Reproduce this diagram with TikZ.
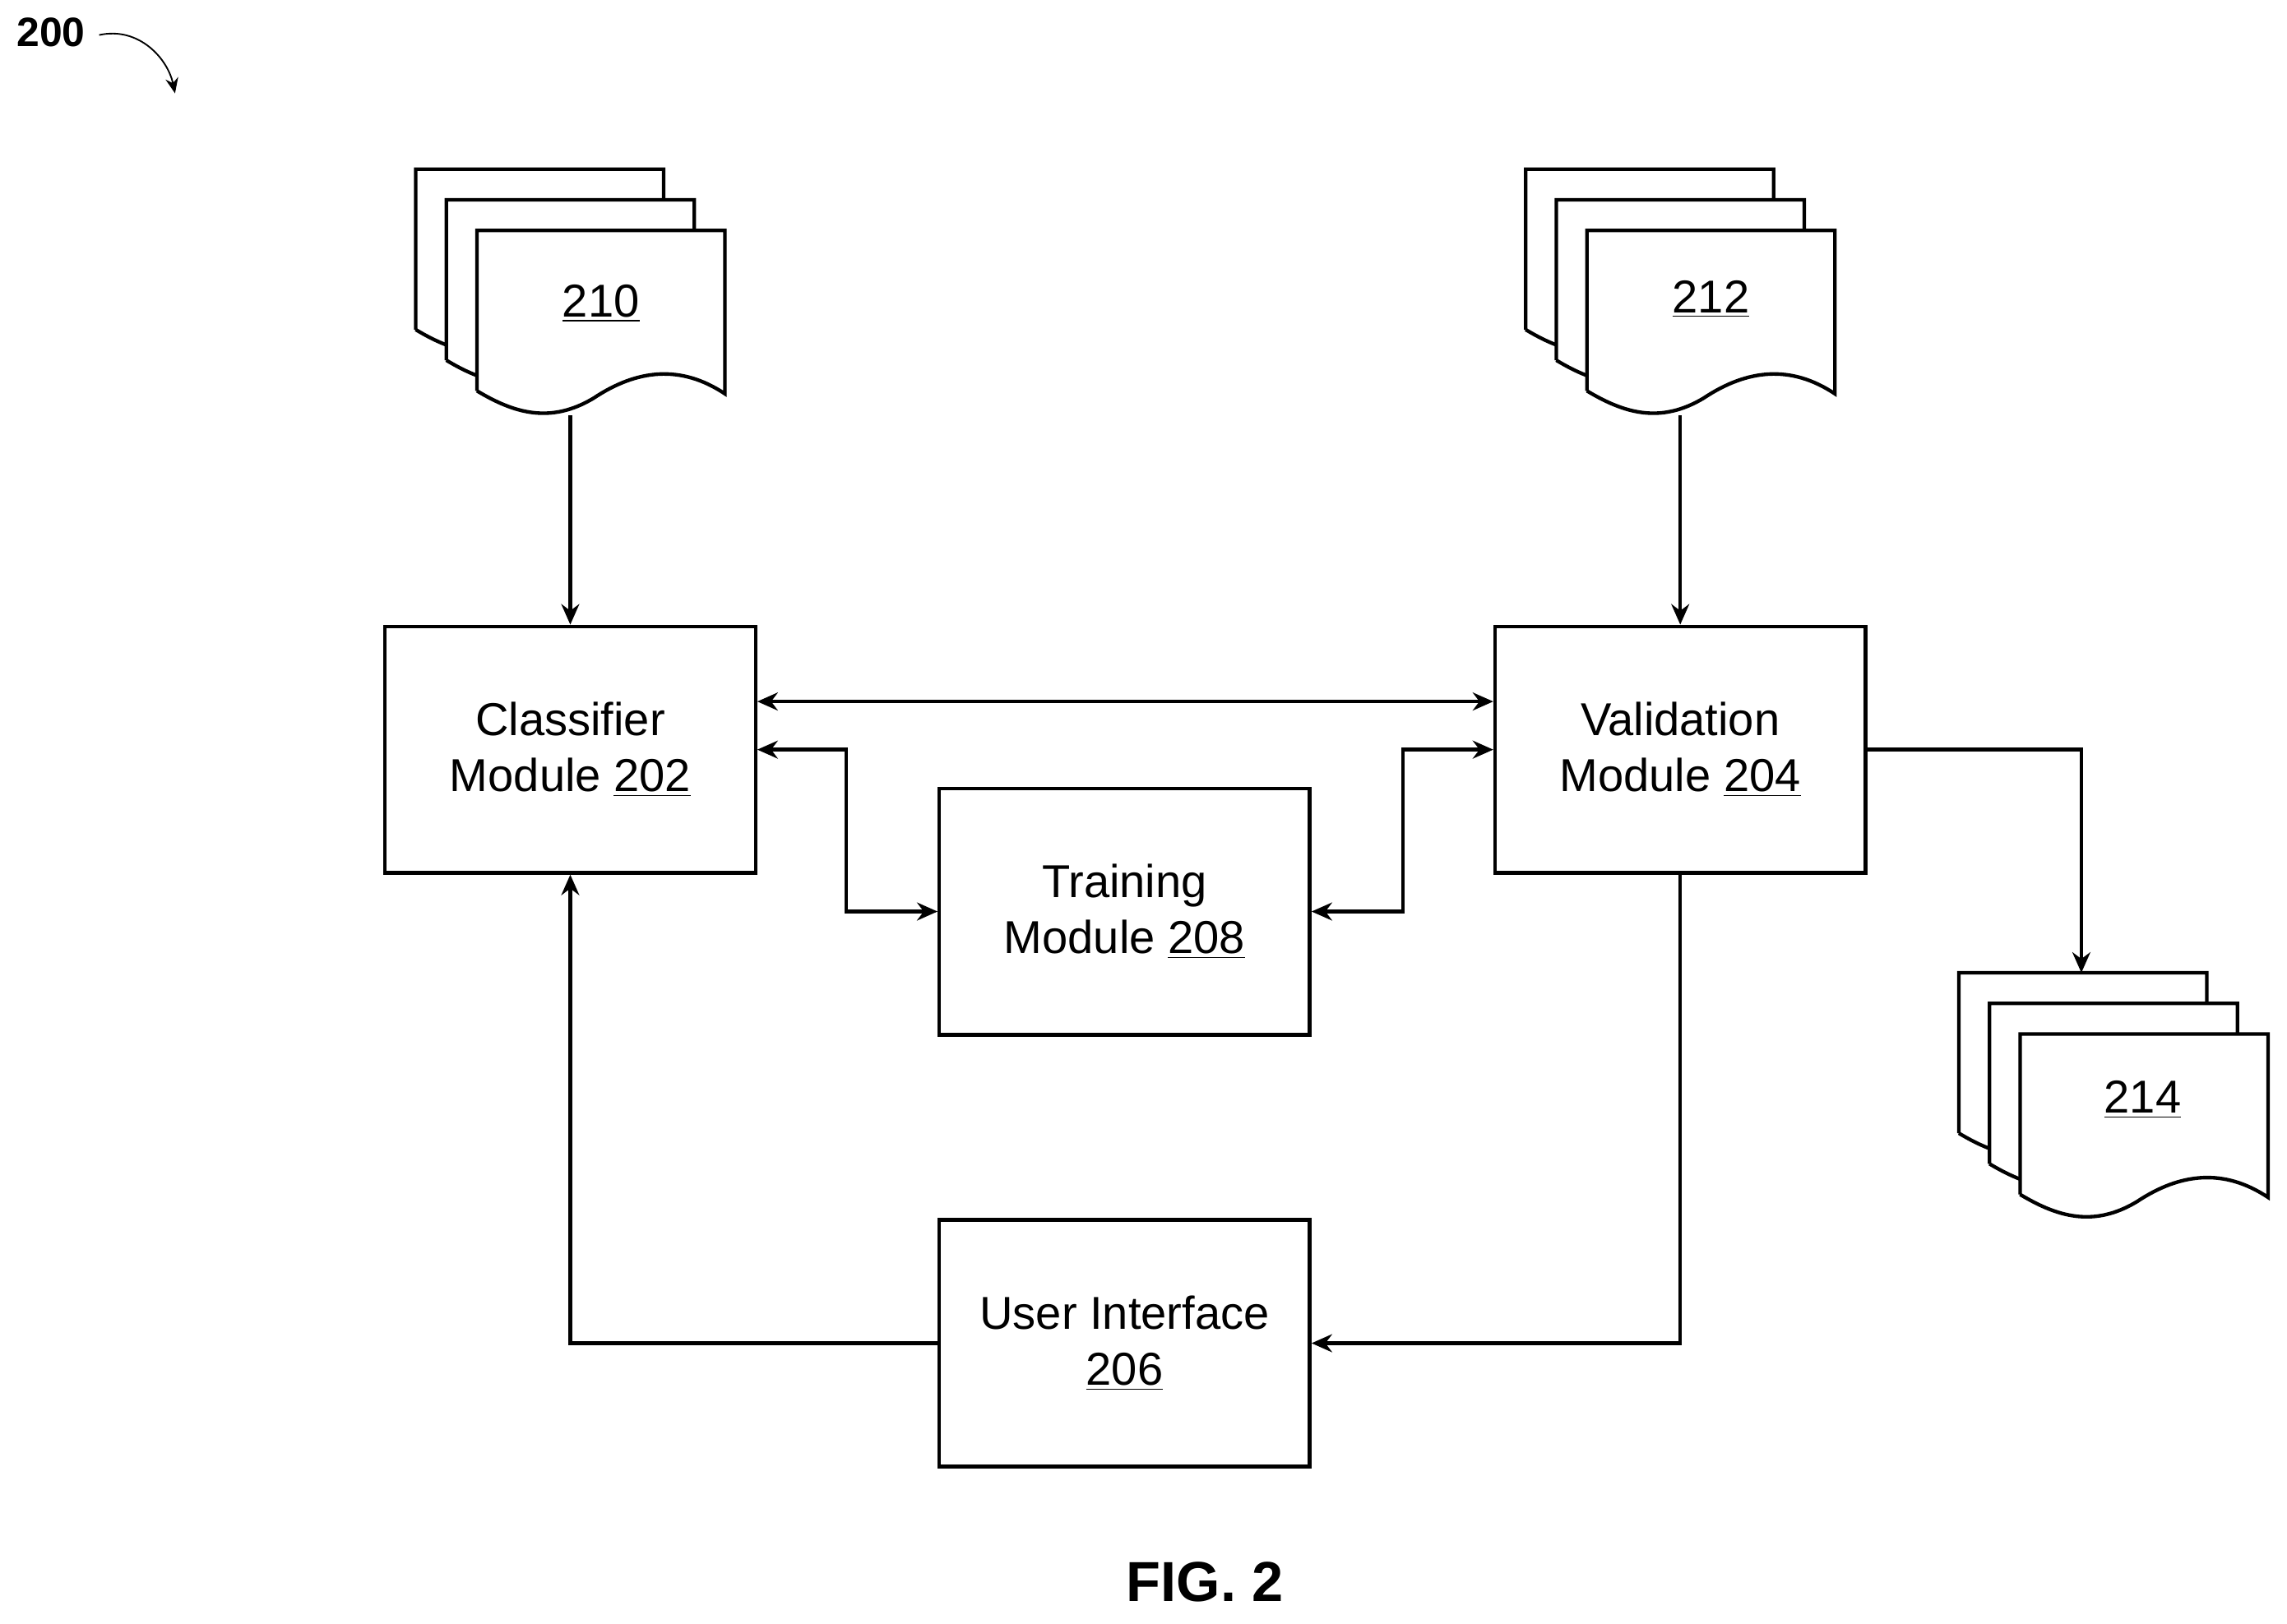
\documentclass[tikz,border=0pt]{standalone}
\usepackage{fontspec}
\setmainfont{Liberation Sans}
\usetikzlibrary{arrows.meta, positioning}

% one sheet of a document stack, top left corner at (#1,#2)
\newcommand{\docsheet}[2]{%
  \draw[fill=white] (#1,#2+110) -- (#1,#2) -- (#1+170,#2) -- (#1+170,#2+112)
    .. controls (#1+140,#2+92) and (#1+110,#2+95) .. (#1+80,#2+115)
    .. controls (#1+50,#2+133) and (#1+25,#2+125) .. (#1,#2+110);}
\newcommand{\docstack}[2]{%
  \docsheet{#1-42}{#2-42}\docsheet{#1-21}{#2-21}\docsheet{#1}{#2}}

\begin{document}
\begin{tikzpicture}[x=0.02cm, y=-0.02cm, line width=1.4pt,
    every node/.style={font=\fontsize{18}{22}\selectfont},
    module/.style={draw, minimum width=5.08cm, minimum height=3.38cm, align=center},
    arr/.style={-{Stealth[length=8pt,width=7pt]}},
    darr/.style={{Stealth[length=8pt,width=7pt]}-{Stealth[length=8pt,width=7pt]}}]
    \useasboundingbox (0,0) rectangle (1568,1113);
    % figure label
    \node[font=\bfseries\fontsize{16}{20}\selectfont] (fignum) at (35,22) {200};
    \draw[line width=0.6pt, -{Stealth[length=6pt,width=5pt]}] (68,24) .. controls (95,18) and (115,40) .. (120,64);
    % document stacks
    \docstack{327}{158}
    \node (d210) at (412,208) {\underline{210}};
    \coordinate (d210b) at (391,285);
    \docstack{1088}{158}
    \node (d212) at (1173,205) {\underline{212}};
    \coordinate (d212b) at (1152,285);
    \docstack{1385}{709}
    \node (d214) at (1469,754) {\underline{214}};
    \coordinate (d214t) at (1427,667);
    % modules
    \node[module] (cls) at (391,514) {Classifier\\Module \underline{202}};
    \node[module] (val) at (1152,514) {Validation\\Module \underline{204}};
    \node[module] (trn) at (771,625) {Training\\Module \underline{208}};
    \node[module] (ui) at (771,921) {User Interface\\\underline{206}};
    % connectors
    \draw[arr] (d210b) -- (cls.north);
    \draw[arr] (d212b) -- (val.north);
    \draw[darr] ([yshift=0.66cm]cls.east) -- ([yshift=0.66cm]val.west);
    \draw[darr] (cls.east) -- (580,514) |- (trn.west);
    \draw[darr] (val.west) -- (962,514) |- (trn.east);
    \draw[arr] (val.east) -| (d214t);
    \draw[arr] (val.south) |- (ui.east);
    \draw[arr] (ui.west) -| (cls.south);
    \node[font=\bfseries\fontsize{22}{26}\selectfont] (fig) at (826,1085) {FIG. 2};
\end{tikzpicture}
\end{document}
